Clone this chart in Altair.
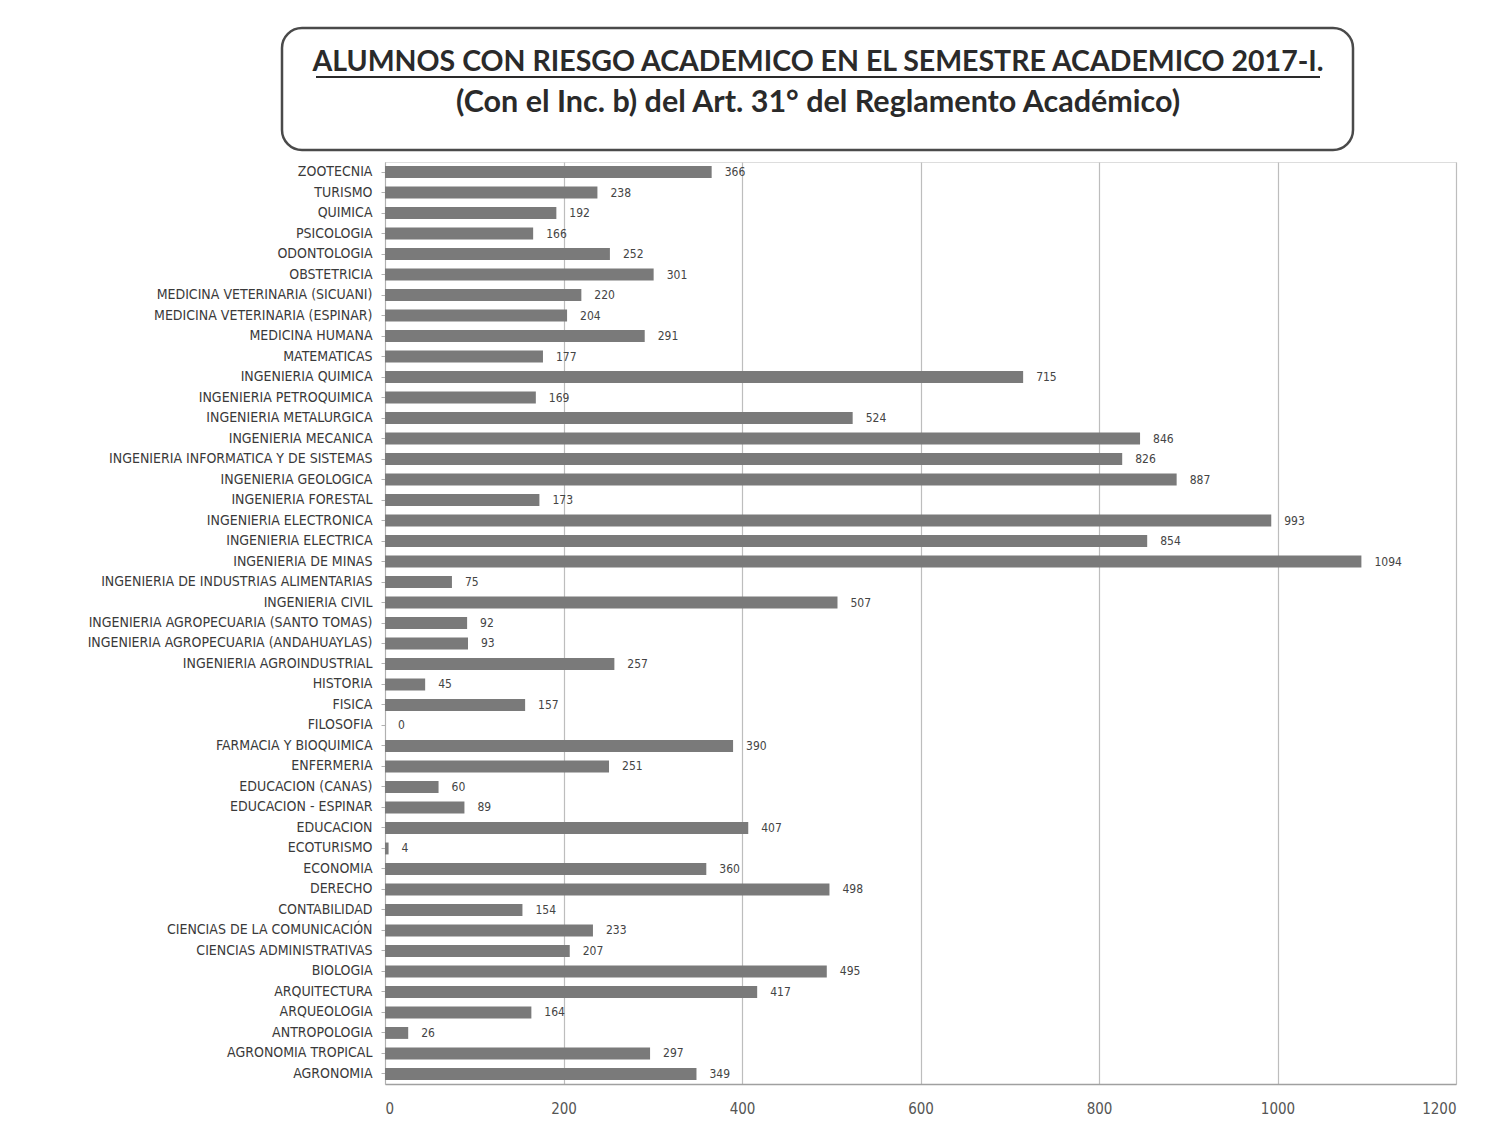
import altair as alt
import pandas as pd

careers = [
    "ZOOTECNIA", "TURISMO", "QUIMICA", "PSICOLOGIA", "ODONTOLOGIA", "OBSTETRICIA",
    "MEDICINA VETERINARIA (SICUANI)", "MEDICINA VETERINARIA (ESPINAR)", "MEDICINA HUMANA",
    "MATEMATICAS", "INGENIERIA QUIMICA", "INGENIERIA PETROQUIMICA", "INGENIERIA METALURGICA",
    "INGENIERIA MECANICA", "INGENIERIA INFORMATICA Y DE SISTEMAS", "INGENIERIA GEOLOGICA",
    "INGENIERIA FORESTAL", "INGENIERIA ELECTRONICA", "INGENIERIA ELECTRICA",
    "INGENIERIA DE MINAS", "INGENIERIA DE INDUSTRIAS ALIMENTARIAS", "INGENIERIA CIVIL",
    "INGENIERIA AGROPECUARIA (SANTO TOMAS)", "INGENIERIA AGROPECUARIA (ANDAHUAYLAS)",
    "INGENIERIA AGROINDUSTRIAL", "HISTORIA", "FISICA", "FILOSOFIA", "FARMACIA Y BIOQUIMICA",
    "ENFERMERIA", "EDUCACION (CANAS)", "EDUCACION - ESPINAR", "EDUCACION", "ECOTURISMO",
    "ECONOMIA", "DERECHO", "CONTABILIDAD", "CIENCIAS DE LA COMUNICACIÓN",
    "CIENCIAS ADMINISTRATIVAS", "BIOLOGIA", "ARQUITECTURA", "ARQUEOLOGIA", "ANTROPOLOGIA",
    "AGRONOMIA TROPICAL", "AGRONOMIA",
]
students = [
    366, 238, 192, 166, 252, 301,
    220, 204, 291,
    177, 715, 169, 524,
    846, 826, 887,
    173, 993, 854,
    1094, 75, 507,
    92, 93,
    257, 45, 157, 0, 390,
    251, 60, 89, 407, 4,
    360, 498, 154, 233,
    207, 495, 417, 164, 26,
    297, 349,
]
x_ticks = [0, 200, 400, 600, 800, 1000, 1200]

title_line1 = "ALUMNOS CON RIESGO ACADEMICO EN EL SEMESTRE ACADEMICO 2017-I."
title_line2 = "(Con el Inc. b) del Art. 31° del Reglamento Académico)"

df = pd.DataFrame({"carrera": careers, "alumnos": students})

W, H = 1071, 922

x_enc = alt.X(
    "alumnos:Q",
    scale=alt.Scale(domain=[0, 1200], nice=False),
    axis=alt.Axis(
        values=x_ticks, format="d", title=None, grid=True, gridColor="#bdbdbd", gridWidth=1.2,
        domainColor="#a0a0a0", domainWidth=1.5, ticks=False, labelPadding=17,
        labelFont="DejaVu Sans Condensed", labelFontSize=15, labelColor="#555555",
    ),
)
y_enc = alt.Y(
    "carrera:N",
    sort=careers,
    scale=alt.Scale(paddingInner=0.42, paddingOuter=0.2),
    axis=alt.Axis(
        title=None, domainColor="#b0b0b0", domainWidth=1, tickColor="#b0b0b0",
        tickSize=4, labelPadding=9, labelFont="DejaVu Sans Condensed",
        labelFontSize=14, labelColor="#3a3a3a", labelLimit=400,
    ),
)

bars = alt.Chart(df).mark_bar(color="#7a7a7a").encode(x=x_enc, y=y_enc)

labels = alt.Chart(df).mark_text(
    align="left", baseline="middle", dx=13, font="DejaVu Sans Condensed",
    fontSize=12, color="#444444",
).encode(x="alumnos:Q", y=alt.Y("carrera:N", sort=careers), text="alumnos:Q")

title_df = pd.DataFrame({"l1": [title_line1], "l2": [title_line2]})

box = alt.Chart(title_df).mark_rect(
    fill="white", stroke="#4a4a4a", strokeWidth=2.5, cornerRadius=20, clip=False,
).encode(
    x=alt.value(-103), x2=alt.value(968), y=alt.value(-134), y2=alt.value(-12),
)
t1 = alt.Chart(title_df).mark_text(
    font="Lato", fontWeight="bold", fontSize=28.5, color="#2a2a2a",
    align="center", baseline="alphabetic", clip=False,
).encode(x=alt.value(433), y=alt.value(-91), text="l1:N")
underline = alt.Chart(title_df).mark_rule(color="#2a2a2a", strokeWidth=2, clip=False).encode(
    x=alt.value(-69), x2=alt.value(935), y=alt.value(-85)
)
t2 = alt.Chart(title_df).mark_text(
    font="Lato", fontWeight="bold", fontSize=30.5, color="#2a2a2a",
    align="center", baseline="alphabetic", clip=False,
).encode(x=alt.value(433), y=alt.value(-50), text="l2:N")

chart = alt.layer(bars, labels, box, t1, underline, t2).properties(
    width=W, height=H,
    autosize=alt.AutoSizeParams(type="none"),
    padding={"left": 377, "top": 154, "right": 28, "bottom": 42},
).configure_view(stroke=None).configure(background="white")

chart.save("out.html", embed_options={"renderer": "svg", "actions": False})
